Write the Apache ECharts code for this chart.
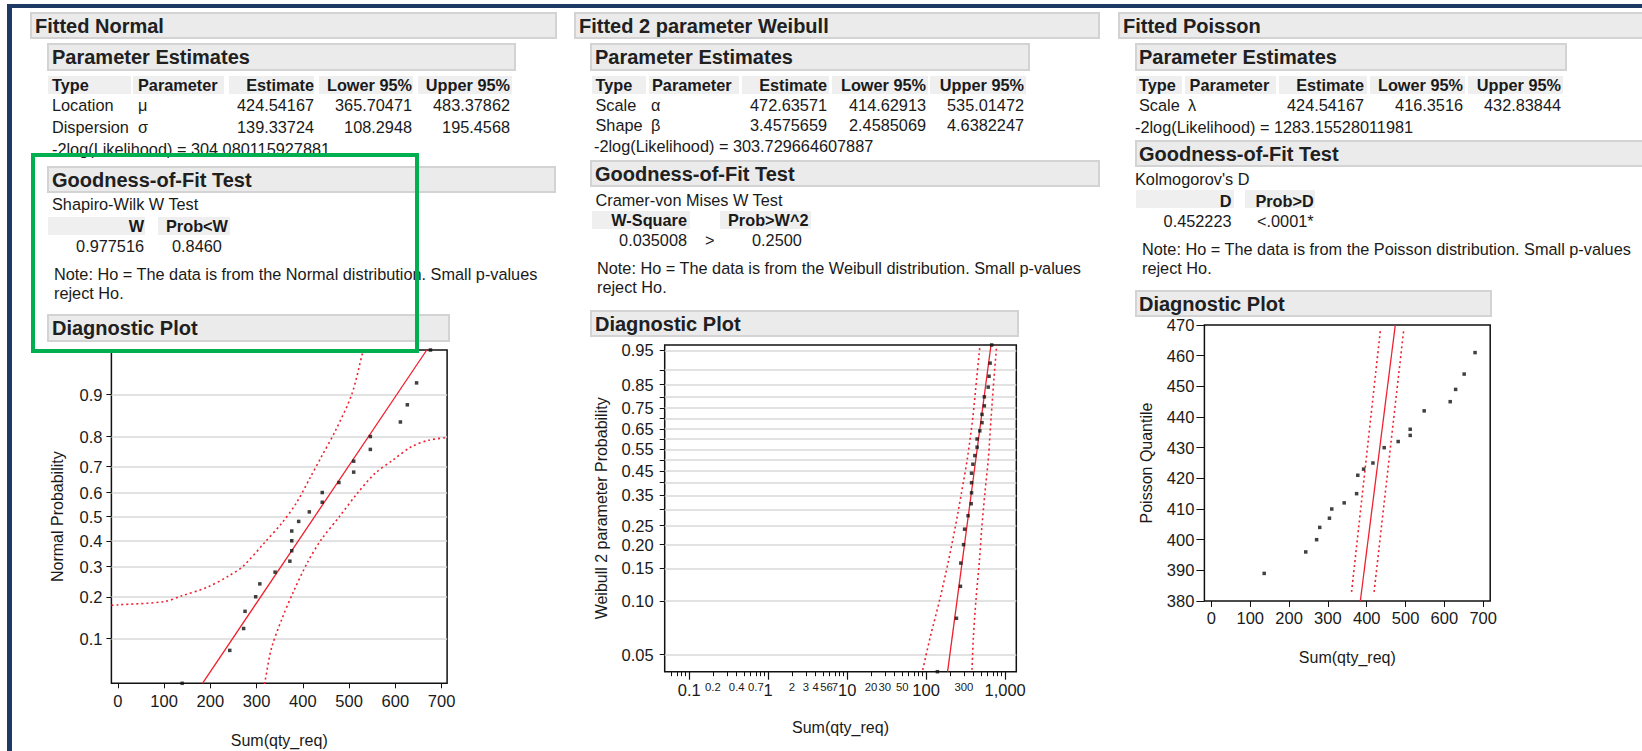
<!DOCTYPE html>
<html><head><meta charset="utf-8">
<script src="https://cdn.jsdelivr.net/npm/echarts@6/dist/echarts.min.js"></script>
<style>
html,body{margin:0;padding:0;background:#fff;width:1642px;height:751px;overflow:hidden;font-family:"Liberation Sans",Arial,sans-serif;color:#1a1a1a;}
#chart{position:absolute;left:0;top:0;width:1642px;height:751px;}
#frame{position:absolute;left:7px;top:4px;width:1700px;height:800px;border-left:5px solid #1d3a64;border-top:4px solid #1d3a64;}
.t{position:absolute;white-space:nowrap;font-size:16.3px;line-height:20px;height:20px;}
.b{font-weight:bold;}
.h{font-size:20px;font-weight:bold;line-height:24px;height:24px;color:#202020;}
.box{position:absolute;box-sizing:border-box;background:#ebebeb;border:2px solid #d3d3d3;}
.cell{position:absolute;background:#efefef;}
#green{position:absolute;left:31px;top:153px;width:388px;height:200px;box-sizing:border-box;border:4px solid #00b050;}
</style></head>
<body>
<div id="chart"></div>
<div id="frame"></div>
<div id="report"></div>
<div id="green"></div>
<script>
// ---------------- data ----------------
const qtyReq   = [139,242,272,275,298,307,340,372,376,376,376,391,414,442,442,478,510,510,546,546,611,626,646,676];
const plotProb = [0.04,0.08,0.12,0.16,0.20,0.24,0.28,0.32,0.36,0.40,0.44,0.48,0.52,0.56,0.60,0.64,0.68,0.72,0.76,0.80,0.84,0.88,0.92,0.96];

const normalFitX = [183, 668];
const normalFitP = [0.04, 0.96];
const normalBandUpX = [-14, 0, 100, 139, 193, 240, 270, 317, 355, 386, 417, 440, 471, 506, 529, 534];
const normalBandUpP = [0.176, 0.177, 0.186, 0.203, 0.229, 0.267, 0.30, 0.392, 0.474, 0.557, 0.663, 0.735, 0.818, 0.901, 0.957, 0.965];
const normalBandLoX = [314, 318, 332, 355, 379, 410, 440, 479, 518, 556, 595, 634, 672, 712];
const normalBandLoP = [0.035, 0.0416, 0.083, 0.142, 0.213, 0.315, 0.405, 0.50, 0.597, 0.675, 0.724, 0.768, 0.789, 0.797];

const weibullFitX = [187, 663];
const weibullFitP = [0.04, 0.96];
const weibullBandLoX = [90.6, 112, 150, 191, 232, 282, 333, 389, 437, 481];
const weibullBandHiX = [381, 396, 429, 472, 506, 557, 614, 664, 723, 783];
const weibullBandP   = [0.041, 0.062, 0.103, 0.163, 0.242, 0.364, 0.507, 0.701, 0.873, 0.96];

const poissonX = [136,243,271,279,304,310,342,374,377,392,416,445,481,512,512,548,615,629,651,679];
const poissonQ = [389,396,400,404,407,410,412,415,421,423,425,430,432,434,436,442,445,449,454,461];
const poissonFitX = [383.6, 473.6];
const poissonFitQ = [380, 470];
const poissonBandLoX = [361, 435.5];
const poissonBandHiX = [419, 495.5];
const poissonBandQ   = [383, 468.6];

// tick values / labels
const normalXTicks = [0,100,200,300,400,500,600,700];
const normalYTicks = [0.1,0.2,0.3,0.4,0.5,0.6,0.7,0.8,0.9];
const weibullYTicks = [0.05,0.10,0.15,0.20,0.25,0.30,0.35,0.40,0.45,0.50,0.55,0.60,0.65,0.70,0.75,0.80,0.85,0.90,0.95];
const weibullYLabels = [0.05,0.10,0.15,0.20,0.25,0.35,0.45,0.55,0.65,0.75,0.85,0.95];
const weibullXMajor = [0.1,1,10,100,1000];
const weibullXMinor = [0.06,0.07,0.08,0.09,0.2,0.3,0.4,0.5,0.6,0.7,0.8,0.9,2,3,4,5,6,7,8,9,20,30,40,50,60,70,80,90,200,300,400,500,600,700,800,900];
const weibullXLabels = [0.1,0.2,0.4,0.7,1,2,3,4,5,6,7,10,20,30,50,100,300,1000];
const weibullXLabelText = ['0.1','0.2','0.4','0.7','1','2','3','4','5','6','7','10','20','30','50','100','300','1,000'];
const poissonXTicks = [0,100,200,300,400,500,600,700];

// ---------------- scale transforms (probability papers) ----------------
function probit(p){
  const a=[-3.969683028665376e+01,2.209460984245205e+02,-2.759285104469687e+02,1.383577518672690e+02,-3.066479806614716e+01,2.506628277459239e+00];
  const b=[-5.447609879822406e+01,1.615858368580409e+02,-1.556989798598866e+02,6.680131188771972e+01,-1.328068155288572e+01];
  const c=[-7.784894002430293e-03,-3.223964580411365e-01,-2.400758277161838e+00,-2.549671664749693e+00,4.374664141464968e+00,2.938163982698783e+00];
  const d=[7.784695709041462e-03,3.224671290700398e-01,2.445134137142996e+00,3.754408661907416e+00];
  const pl=0.02425, ph=1-pl; let q,r;
  if(p<pl){q=Math.sqrt(-2*Math.log(p));return (((((c[0]*q+c[1])*q+c[2])*q+c[3])*q+c[4])*q+c[5])/((((d[0]*q+d[1])*q+d[2])*q+d[3])*q+1);}
  if(p<=ph){q=p-0.5;r=q*q;return (((((a[0]*r+a[1])*r+a[2])*r+a[3])*r+a[4])*r+a[5])*q/(((((b[0]*r+b[1])*r+b[2])*r+b[3])*r+b[4])*r+1);}
  q=Math.sqrt(-2*Math.log(1-p));return -(((((c[0]*q+c[1])*q+c[2])*q+c[3])*q+c[4])*q+c[5])/((((d[0]*q+d[1])*q+d[2])*q+d[3])*q+1);
}
const wb = p => Math.log(-Math.log(1-p));
const lg = v => Math.log10(v);
function nearestLabel(v, vals, fn, texts){
  let best=0, bd=Infinity;
  vals.forEach((x,i)=>{const dd=Math.abs(fn(x)-v); if(dd<bd){bd=dd;best=i;}});
  return texts[best];
}
const zip = (xs, ys, fy) => xs.map((x,i)=>[x, fy ? fy(ys[i]) : ys[i]]);

// ---------------- chart ----------------
const FONT = '"Liberation Sans", Arial, sans-serif';
const RED = '#f0202e';
const TXT = '#1a1a1a';
const GRIDC = '#d9d9d9';
const lbl = (extra) => Object.assign({fontFamily:FONT, fontSize:16.5, color:TXT, margin:8}, extra||{});
const nameStyle = {fontFamily:FONT, fontSize:16, color:TXT};
const noLine = {show:false, onZero:false};

function lineS(xi, yi, data, dotted){
  return {type:'line', xAxisIndex:xi, yAxisIndex:yi, data, symbol:'none', silent:true, clip:true,
    smooth: dotted ? 0.3 : false, animation:false, z:3,
    lineStyle:{color:RED, width: dotted ? 1.6 : 1.3, type: dotted ? [2,3] : 'solid'}};
}
function dotS(xi, yi, data){
  return {type:'scatter', xAxisIndex:xi, yAxisIndex:yi, data, symbol:'rect', symbolSize:3.5, silent:true, animation:false, z:4,
    itemStyle:{color:'#111'}};
}

const gridBase = {show:true, borderColor:'#111', borderWidth:1.5, backgroundColor:'transparent', containLabel:false, outerBoundsMode:'none'};

const option = {
  animation:false,
  textStyle:{fontFamily:FONT},
  grid:[
    Object.assign({left:111.4, top:350, width:335.7, height:333.3}, gridBase),
    Object.assign({left:664.7, top:345, width:351.6, height:326.7}, gridBase),
    Object.assign({left:1204.4, top:325, width:285.8, height:276}, gridBase)
  ],
  xAxis:[
    {gridIndex:0, type:'value', min:-14, max:712, position:'bottom',
     axisLine:noLine, splitLine:{show:false},
     axisTick:{show:true, length:5, customValues:normalXTicks, lineStyle:{color:'#111', width:1}},
     axisLabel:lbl({customValues:normalXTicks, margin:9}),
     name:'Sum(qty_req)', nameLocation:'middle', nameGap:49, nameMoveOverlap:false, nameTextStyle:nameStyle},
    {gridIndex:1, type:'value', min:lg(0.049), max:lg(1386), position:'bottom', offset:0,
     axisLine:noLine, splitLine:{show:false},
     axisTick:{show:true, length:8, customValues:weibullXMajor.map(lg), lineStyle:{color:'#111', width:1.2}},
     axisLabel:{customValues:weibullXLabels.map(lg), margin:9, fontFamily:FONT, color:TXT,
       formatter:(v)=>{ const s = nearestLabel(v, weibullXLabels, lg, weibullXLabelText);
         const big = ['0.1','1','10','100','1,000'].indexOf(s) >= 0;
         return big ? '{big|'+s+'}' : '{sm|'+s+'}'; },
       rich:{big:{fontSize:16.5, fontFamily:FONT, color:TXT, lineHeight:18}, sm:{fontSize:11.3, fontFamily:FONT, color:TXT, lineHeight:13}}},
     name:'Sum(qty_req)', nameLocation:'middle', nameGap:47.5, nameMoveOverlap:false, nameTextStyle:nameStyle},
    {gridIndex:1, type:'value', min:lg(0.049), max:lg(1386), position:'bottom', offset:0,
     axisLine:noLine, splitLine:{show:false},
     axisTick:{show:true, length:4.5, customValues:weibullXMinor.map(lg), lineStyle:{color:'#111', width:1}},
     axisLabel:{show:false}},
    {gridIndex:2, type:'value', min:-18, max:718, position:'bottom',
     axisLine:noLine, splitLine:{show:false},
     axisTick:{show:true, length:6, customValues:poissonXTicks, lineStyle:{color:'#111', width:1}},
     axisLabel:lbl({customValues:poissonXTicks, margin:8}),
     name:'Sum(qty_req)', nameLocation:'middle', nameGap:48, nameMoveOverlap:false, nameTextStyle:nameStyle}
  ],
  yAxis:[
    {gridIndex:0, type:'value', min:probit(0.04), max:probit(0.96), position:'left',
     axisLine:noLine,
     axisTick:{show:true, length:5, customValues:normalYTicks.map(probit), lineStyle:{color:'#111', width:1}},
     axisLabel:lbl({customValues:normalYTicks.map(probit), margin:9,
       formatter:(v)=>nearestLabel(v, normalYTicks, probit, normalYTicks.map(p=>p.toFixed(1)))}),
     splitLine:{show:true, lineStyle:{color:GRIDC, width:1.5}},
     name:'Normal Probability', nameLocation:'middle', nameGap:46, nameMoveOverlap:false, nameTextStyle:nameStyle},
    {gridIndex:1, type:'value', min:wb(0.04), max:wb(0.96), position:'left',
     axisLine:noLine,
     axisTick:{show:true, length:5, customValues:weibullYTicks.map(wb), lineStyle:{color:'#111', width:1}},
     axisLabel:lbl({customValues:weibullYLabels.map(wb), margin:11,
       formatter:(v)=>nearestLabel(v, weibullYLabels, wb, weibullYLabels.map(p=>p.toFixed(2)))}),
     splitLine:{show:true, lineStyle:{color:GRIDC, width:1.5}},
     name:'Weibull 2 parameter Probability', nameLocation:'middle', nameGap:55, nameMoveOverlap:false, nameTextStyle:nameStyle},
    {gridIndex:2, type:'value', min:380, max:470, interval:10, position:'left',
     axisLine:noLine, splitLine:{show:false},
     axisTick:{show:true, length:8, lineStyle:{color:'#111', width:1}},
     axisLabel:lbl({margin:10}),
     name:'Poisson Quantile', nameLocation:'middle', nameGap:50, nameMoveOverlap:false, nameTextStyle:nameStyle}
  ],
  series:[
    lineS(0,0, zip(normalBandUpX, normalBandUpP, probit), true),
    lineS(0,0, zip(normalBandLoX, normalBandLoP, probit), true),
    lineS(0,0, zip(normalFitX, normalFitP, probit), false),
    dotS(0,0, zip(qtyReq, plotProb, probit)),

    lineS(1,1, weibullBandLoX.map((x,i)=>[lg(x), wb(weibullBandP[i])]), true),
    lineS(1,1, weibullBandHiX.map((x,i)=>[lg(x), wb(weibullBandP[i])]), true),
    lineS(1,1, weibullFitX.map((x,i)=>[lg(x), wb(weibullFitP[i])]), false),
    dotS(1,1, qtyReq.map((x,i)=>[lg(x), wb(plotProb[i])])),

    lineS(3,2, zip(poissonBandLoX, poissonBandQ), true),
    lineS(3,2, zip(poissonBandHiX, poissonBandQ), true),
    lineS(3,2, zip(poissonFitX, poissonFitQ), false),
    dotS(3,2, zip(poissonX, poissonQ))
  ]
};
const chart = echarts.init(document.getElementById('chart'), null, {renderer:'svg'});
chart.setOption(option);

// ---------------- report text (JMP outline) ----------------
const W = 1642;
const report = document.getElementById('report');
function box(l,t,w,h){const e=document.createElement('div');e.className='box';Object.assign(e.style,{left:l+'px',top:t+'px',width:w+'px',height:h+'px'});report.appendChild(e);}
function cell(l,t,w,h){const e=document.createElement('div');e.className='cell';Object.assign(e.style,{left:l+'px',top:t+'px',width:w+'px',height:h+'px'});report.appendChild(e);}
function txt(x,cy,s,align,st){
  const e=document.createElement('div');
  e.className='t'+(st==='b'?' b':'')+(st==='h'?' h':'');
  e.textContent=s;
  const hh = st==='h'?24:20;
  e.style.top=(cy-hh/2)+'px';
  if(align==='r'){e.style.right=(W-x)+'px';} else {e.style.left=x+'px';}
  report.appendChild(e);
}
// Panel 1 : Fitted Normal
box(30,12,527,27); box(47,43,469,28); box(47,166,509,27); box(47,314,403,28);
[[48,76,83,18],[133,76,91,18],[229,76,85,18],[319,76,94,18],[418,76,94,18],[48,217,97,18],[158,217,72,18]].forEach(c=>cell(...c));
txt(35,25.5,'Fitted Normal','l','h'); txt(52,57,'Parameter Estimates','l','h');
txt(52,179.5,'Goodness-of-Fit Test','l','h'); txt(52,328,'Diagnostic Plot','l','h');
txt(52,85,'Type','l','b'); txt(138,85,'Parameter','l','b'); txt(314,85,'Estimate','r','b'); txt(412,85,'Lower 95%','r','b'); txt(510,85,'Upper 95%','r','b');
txt(52,105,'Location'); txt(138,105,'μ'); txt(314,105,'424.54167','r'); txt(412,105,'365.70471','r'); txt(510,105,'483.37862','r');
txt(52,127,'Dispersion'); txt(138,127,'σ'); txt(314,127,'139.33724','r'); txt(412,127,'108.2948','r'); txt(510,127,'195.4568','r');
txt(52,149,'-2log(Likelihood) = 304.080115927881');
txt(52,204,'Shapiro-Wilk W Test');
txt(144,226,'W','r','b'); txt(166,226,'Prob<W','l','b');
txt(144,246,'0.977516','r'); txt(172,246,'0.8460');
txt(54,274,'Note: Ho = The data is from the Normal distribution. Small p-values'); txt(54,293,'reject Ho.');

// Panel 2 : Fitted 2 parameter Weibull
box(574,12,526,27); box(590,43,440,28); box(590,160,510,27); box(590,310,429,27);
[[592,76,54,18],[649,76,90,18],[742,76,87,18],[832,76,96,18],[930,76,96,18],[592,211,98,18],[720,211,91,18]].forEach(c=>cell(...c));
txt(579,25.5,'Fitted 2 parameter Weibull','l','h'); txt(595,57,'Parameter Estimates','l','h');
txt(595,173.5,'Goodness-of-Fit Test','l','h'); txt(595,323.5,'Diagnostic Plot','l','h');
txt(595.5,85,'Type','l','b'); txt(652,85,'Parameter','l','b'); txt(827,85,'Estimate','r','b'); txt(926,85,'Lower 95%','r','b'); txt(1024,85,'Upper 95%','r','b');
txt(595.5,105,'Scale'); txt(651,105,'α'); txt(827,105,'472.63571','r'); txt(926,105,'414.62913','r'); txt(1024,105,'535.01472','r');
txt(595.5,125,'Shape'); txt(651,125,'β'); txt(827,125,'3.4575659','r'); txt(926,125,'2.4585069','r'); txt(1024,125,'4.6382247','r');
txt(594,146,'-2log(Likelihood) = 303.729664607887');
txt(595.5,200,'Cramer-von Mises W Test');
txt(687,220,'W-Square','r','b'); txt(728,220,'Prob>W^2','l','b');
txt(687,240,'0.035008','r'); txt(705,240,'>'); txt(752,240,'0.2500');
txt(597,268.3,'Note: Ho = The data is from the Weibull distribution. Small p-values'); txt(597,287.3,'reject Ho.');

// Panel 3 : Fitted Poisson
box(1118,12,540,27); box(1135,43,432,28); box(1135,140,520,27); box(1135,290,357,27);
[[1136,76,46,18],[1185,76,91,18],[1279,76,88,18],[1370,76,95,18],[1468,76,95,18],[1136,190,98,18],[1245,190,70,18]].forEach(c=>cell(...c));
txt(1123,25.5,'Fitted Poisson','l','h'); txt(1139,57,'Parameter Estimates','l','h');
txt(1139,153.5,'Goodness-of-Fit Test','l','h'); txt(1139,303.5,'Diagnostic Plot','l','h');
txt(1139,85,'Type','l','b'); txt(1189.6,85,'Parameter','l','b'); txt(1364,85,'Estimate','r','b'); txt(1463,85,'Lower 95%','r','b'); txt(1561,85,'Upper 95%','r','b');
txt(1139,104.5,'Scale'); txt(1188,104.5,'λ'); txt(1364,104.5,'424.54167','r'); txt(1463,104.5,'416.3516','r'); txt(1561,104.5,'432.83844','r');
txt(1135,126.7,'-2log(Likelihood) = 1283.15528011981');
txt(1135,179.3,"Kolmogorov's D");
txt(1231.5,200.7,'D','r','b'); txt(1255.4,200.7,'Prob>D','l','b');
txt(1231.5,221,'0.452223','r'); txt(1257,221,'<.0001*');
txt(1142,249,'Note: Ho = The data is from the Poisson distribution. Small p-values'); txt(1142,267.7,'reject Ho.');
</script>
</body></html>
